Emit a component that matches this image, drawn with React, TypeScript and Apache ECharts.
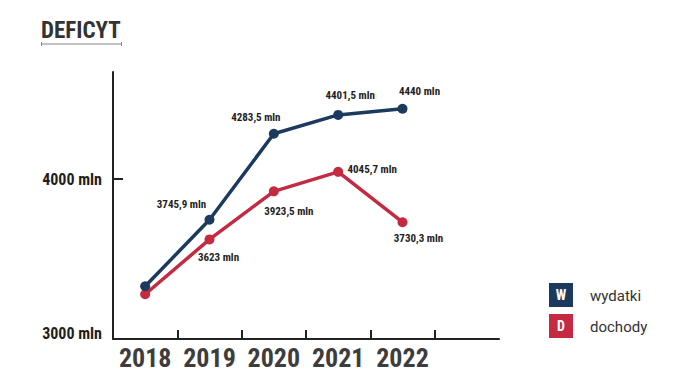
import React, { useEffect, useRef } from "react";
import * as echarts from "echarts";

const title = "DEFICYT";
const years = ["2018", "2019", "2020", "2021", "2022", ""];
const seriesNames = ["wydatki", "dochody"];
const legendLetters = ["W", "D"];
const wydatki = [3330, 3745.9, 4283.5, 4401.5, 4440];
const dochody = [3280, 3623, 3923.5, 4045.7, 3730.3];
const yMin = 3000;
const yMax = 4670;
const yInterval = 1000;
const yLabelValues = [3000, 4000];
const yTickValues = [4000];
const xTickBoundaries = [1, 2, 3, 4, 5];
const unit = "mln";

const colors = ["#1c3a5e", "#c52a43"];
const wOffsets: ([number, number] | null)[] = [null, [-28, -15], [-18, -16], [12, -19], [17, -17]];
const dOffsets: ([number, number] | null)[] = [null, [9, 18], [15, 20], [34, -2], [16, 16]];

const FONT = '"Roboto Condensed", Roboto, sans-serif';
const FONT2 = 'Roboto, sans-serif';

function fmt(v: number) {
  return String(v).replace(".", ",") + " " + unit;
}

function buildData(vals: number[], offs: ([number, number] | null)[]) {
  return vals.map((v, i) => {
    const o = offs[i];
    return {
      value: v,
      label: o
        ? { show: true, position: "inside", offset: o, formatter: () => fmt(v) }
        : { show: false },
    };
  });
}

export default function App() {
  const ref = useRef<HTMLDivElement>(null);
  useEffect(() => {
    document.body.style.margin = "0";
    const chart = echarts.init(ref.current!, null, { renderer: "svg" });
    const labelStyle = {
      color: "#1e1e1e",
      fontFamily: FONT,
      fontWeight: "bold",
      fontSize: 11,
    };
    const legendGraphics: any[] = [];
    seriesNames.forEach((n, i) => {
      const top = 283 + i * 31;
      legendGraphics.push({
        type: "rect",
        shape: { x: 549, y: top, width: 24, height: 24 },
        style: { fill: colors[i] },
      });
      legendGraphics.push({
        type: "text",
        x: 561,
        y: top + 12,
        style: {
          text: legendLetters[i],
          fill: "#fff",
          font: `bold 14px ${FONT}`,
          textAlign: "center",
          textVerticalAlign: "middle",
        },
      });
      legendGraphics.push({
        type: "text",
        x: 590,
        y: top + 13,
        style: {
          text: n,
          fill: "#333",
          font: `15px ${FONT2}`,
          textAlign: "left",
          textVerticalAlign: "middle",
        },
      });
    });
    chart.setOption({
      animation: false,
      backgroundColor: "#fff",
      grid: { left: 113, right: 201, top: 72, bottom: 52 },
      xAxis: [
        {
          type: "category",
          data: years,
          boundaryGap: true,
          axisLine: { lineStyle: { color: "#222", width: 2 } },
          axisTick: { show: false },
          axisLabel: {
            interval: 0,
            color: "#3d3d3d",
            fontFamily: FONT,
            fontWeight: "bold",
            fontSize: 26,
            margin: 6,
          },
        },
        {
          type: "value",
          position: "bottom",
          min: 0,
          max: years.length,
          interval: 1,
          axisLine: { show: false },
          splitLine: { show: false },
          axisLabel: { show: false },
          axisTick: {
            show: true,
            inside: true,
            length: 9,
            customValues: xTickBoundaries,
            lineStyle: { color: "#222", width: 2 },
          },
        },
      ],
      yAxis: {
        type: "value",
        min: yMin,
        max: yMax,
        interval: yInterval,
        splitLine: { show: false },
        axisLine: { show: true, lineStyle: { color: "#222", width: 2 } },
        axisTick: {
          show: true,
          inside: true,
          length: 10,
          customValues: yTickValues,
          lineStyle: { color: "#222", width: 2 },
        },
        axisLabel: {
          margin: 11,
          customValues: yLabelValues,
          color: "#1e1e1e",
          fontFamily: FONT,
          fontWeight: "bold",
          fontSize: 16,
          formatter: (v: number) => (v === yMin ? `{lo|${v} ${unit}}` : `${v} ${unit}`),
          rich: {
            lo: {
              color: "#1e1e1e",
              fontFamily: FONT,
              fontWeight: "bold",
              fontSize: 16,
              padding: [0, 0, 12, 0],
            },
          },
        },
      },
      series: [
        {
          name: seriesNames[0],
          type: "line",
          xAxisIndex: 0,
          data: buildData(wydatki, wOffsets),
          symbol: "circle",
          symbolSize: 10,
          lineStyle: { color: colors[0], width: 3.5 },
          itemStyle: { color: colors[0] },
          label: labelStyle,
          z: 3,
        },
        {
          name: seriesNames[1],
          type: "line",
          xAxisIndex: 0,
          data: buildData(dochody, dOffsets),
          symbol: "circle",
          symbolSize: 10,
          lineStyle: { color: colors[1], width: 3.5 },
          itemStyle: { color: colors[1] },
          label: labelStyle,
          z: 2,
        },
      ],
      graphic: [
        {
          type: "text",
          x: 41,
          y: 42,
          style: {
            text: title,
            fill: "#333",
            font: `bold 23px ${FONT}`,
            textAlign: "left",
            textVerticalAlign: "bottom",
          },
        },
        { type: "line", shape: { x1: 41, y1: 44, x2: 122, y2: 44 }, style: { stroke: "#888", lineWidth: 1 } },
        { type: "line", shape: { x1: 41.5, y1: 42, x2: 41.5, y2: 46 }, style: { stroke: "#888", lineWidth: 1 } },
        { type: "line", shape: { x1: 121.5, y1: 42, x2: 121.5, y2: 46 }, style: { stroke: "#888", lineWidth: 1 } },
        ...legendGraphics,
      ],
    });
    return () => chart.dispose();
  }, []);
  return <div ref={ref} style={{ width: 700, height: 391 }} />;
}
